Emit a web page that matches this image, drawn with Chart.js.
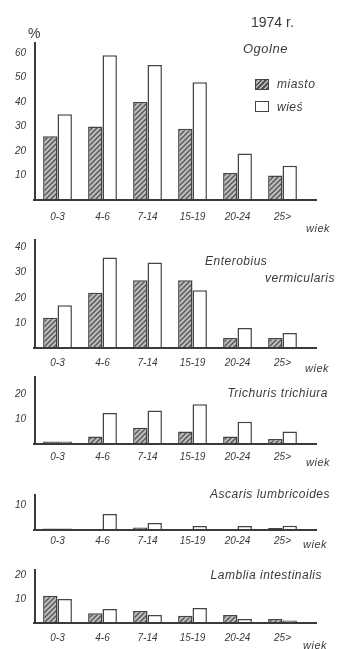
<!DOCTYPE html>
<html>
<head>
<meta charset="utf-8">
<script src="https://cdn.jsdelivr.net/npm/chart.js@4.4.1/dist/chart.umd.min.js"></script>
<style>
  body { margin: 0; background: #fff; }
  #wrap { position: relative; width: 338px; height: 649px; overflow: hidden; font-family: "Liberation Sans", Arial, sans-serif; color: #3a3a3a; }
  canvas { position: absolute; left: 0; }
  .t { position: absolute; white-space: nowrap; font-style: italic; font-size: 12px; letter-spacing: 0.5px; line-height: 1; }
  .wiek { font-size: 11px; }
  .box { position: absolute; width: 14px; height: 11px; border: 1.5px solid #444; box-sizing: border-box; }
  .hatch { background: repeating-linear-gradient(-45deg, #555 0 1.5px, #bbb 1.5px 3.5px); }
</style>
</head>
<body>
<div id="wrap">
  <canvas id="c1" width="338" height="183" style="top:40px"></canvas>
  <canvas id="c2" width="338" height="133" style="top:236px"></canvas>
  <canvas id="c3" width="338" height="89" style="top:374px"></canvas>
  <canvas id="c4" width="338" height="53" style="top:494px"></canvas>
  <canvas id="c5" width="338" height="77" style="top:567px"></canvas>

  <div class="t" style="left:28px;top:26px;font-style:normal;font-size:14px">%</div>
  <div class="t" style="left:251px;top:15px;font-style:normal;font-size:14px;letter-spacing:0">1974 r.</div>
  <div class="t" style="left:243px;top:42px;font-size:13px">Ogolne</div>
  <div class="box hatch" style="left:255px;top:79px"></div>
  <div class="t" style="left:277px;top:78px">miasto</div>
  <div class="box" style="left:255px;top:101px"></div>
  <div class="t" style="left:277px;top:101px">wieś</div>
  <div class="t wiek" style="left:306px;top:223px">wiek</div>

  <div class="t" style="left:205px;top:255px">Enterobius</div>
  <div class="t" style="right:3px;top:272px">vermicularis</div>
  <div class="t wiek" style="left:305px;top:363px">wiek</div>

  <div class="t" style="right:10px;top:387px">Trichuris trichiura</div>
  <div class="t wiek" style="left:306px;top:457px">wiek</div>

  <div class="t" style="right:8px;top:488px">Ascaris lumbricoides</div>
  <div class="t wiek" style="left:303px;top:539px">wiek</div>

  <div class="t" style="right:16px;top:569px">Lamblia intestinalis</div>
  <div class="t wiek" style="left:303px;top:640px">wiek</div>
</div>
<script>
const ageGroups = ['0-3', '4-6', '7-14', '15-19', '20-24', '25>'];

const ogolneMiasto = [26, 30, 40, 29, 11, 10];
const ogolneWies   = [35, 59, 55, 48, 19, 14];
const ogolneTicks  = [10, 20, 30, 40, 50, 60];

const enteroMiasto = [12, 22, 27, 27, 4, 4];
const enteroWies   = [17, 36, 34, 23, 8, 6];
const enteroTicks  = [10, 20, 30, 40];

const trichMiasto = [1, 3, 6.5, 5, 3, 2];
const trichWies   = [1, 12.5, 13.5, 16, 9, 5];
const trichTicks  = [10, 20];

const ascarisMiasto = [0.6, 0.4, 1, 0.3, 0.3, 0.8];
const ascarisWies   = [0.6, 6.4, 2.8, 1.6, 1.6, 1.7];
const ascarisTicks  = [10];

const lambliaMiasto = [11.3, 4, 5, 3, 3.3, 1.7];
const lambliaWies   = [10, 5.8, 3.3, 6.2, 1.7, 1];
const lambliaTicks  = [10, 20];

const ink = '#3a3a3a';

function hatchPattern(){
  const c = document.createElement('canvas');
  c.width = 5; c.height = 5;
  const g = c.getContext('2d');
  g.fillStyle = '#bdbdbd';
  g.fillRect(0, 0, 5, 5);
  g.strokeStyle = '#555';
  g.lineWidth = 1.4;
  g.beginPath();
  g.moveTo(-1, 6); g.lineTo(6, -1);
  g.moveTo(-1, 1); g.lineTo(1, -1);
  g.moveTo(4, 6); g.lineTo(6, 4);
  g.stroke();
  return g.createPattern(c, 'repeat');
}
const hatch = hatchPattern();

// x axis line runs a bit past the last group, as in the print
const baseLine = {
  id: 'baseLine',
  afterDatasetsDraw(chart){
    const a = chart.chartArea, ctx = chart.ctx;
    ctx.save();
    ctx.strokeStyle = ink;
    ctx.lineWidth = 1.8;
    ctx.beginPath();
    ctx.moveTo(a.left - 2, a.bottom);
    ctx.lineTo(a.right + 12, a.bottom);
    ctx.stroke();
    ctx.restore();
  }
};

function panel(id, miasto, wies, max, ticks, padTop, labelPad){
  const ctx = document.getElementById(id).getContext('2d');
  return new Chart(ctx, {
    type: 'bar',
    data: {
      labels: ageGroups,
      datasets: [
        { label: 'miasto', data: miasto, backgroundColor: hatch, borderColor: '#444', borderWidth: 1.5 },
        { label: 'wieś', data: wies, backgroundColor: '#fff', borderColor: '#444', borderWidth: 1.5 }
      ]
    },
    options: {
      responsive: false,
      animation: false,
      events: [],
      categoryPercentage: 0.64,
      barPercentage: 1.0,
      layout: { padding: { top: padTop, right: 33, bottom: 0, left: 0 } },
      plugins: { legend: { display: false }, tooltip: { enabled: false } },
      scales: {
        x: {
          grid: { display: false, drawTicks: false },
          border: { display: false },
          ticks: { color: ink, padding: labelPad, font: { family: 'Liberation Sans', style: 'italic', size: 10 }, maxRotation: 0 },
          afterFit: s => { s.height = labelPad + 12; }
        },
        y: {
          min: 0,
          max: max,
          grid: { display: false, drawTicks: false },
          border: { display: true, color: ink, width: 2 },
          ticks: { color: ink, padding: 9, font: { family: 'Liberation Sans', style: 'italic', size: 10 } },
          afterBuildTicks: s => { s.ticks = ticks.map(v => ({ value: v })); },
          afterFit: s => { s.width = 35; s.paddingTop = 0; s.paddingBottom = 0; }
        }
      }
    },
    plugins: [baseLine]
  });
}

panel('c1', ogolneMiasto, ogolneWies, 64, ogolneTicks, 3, 11);
panel('c2', enteroMiasto, enteroWies, 43, enteroTicks, 4, 9);
panel('c3', trichMiasto, trichWies, 27, trichTicks, 3, 7);
panel('c4', ascarisMiasto, ascarisWies, 14, ascarisTicks, 1, 5);
panel('c5', lambliaMiasto, lambliaWies, 22, lambliaTicks, 3, 9);
</script>
</body>
</html>
